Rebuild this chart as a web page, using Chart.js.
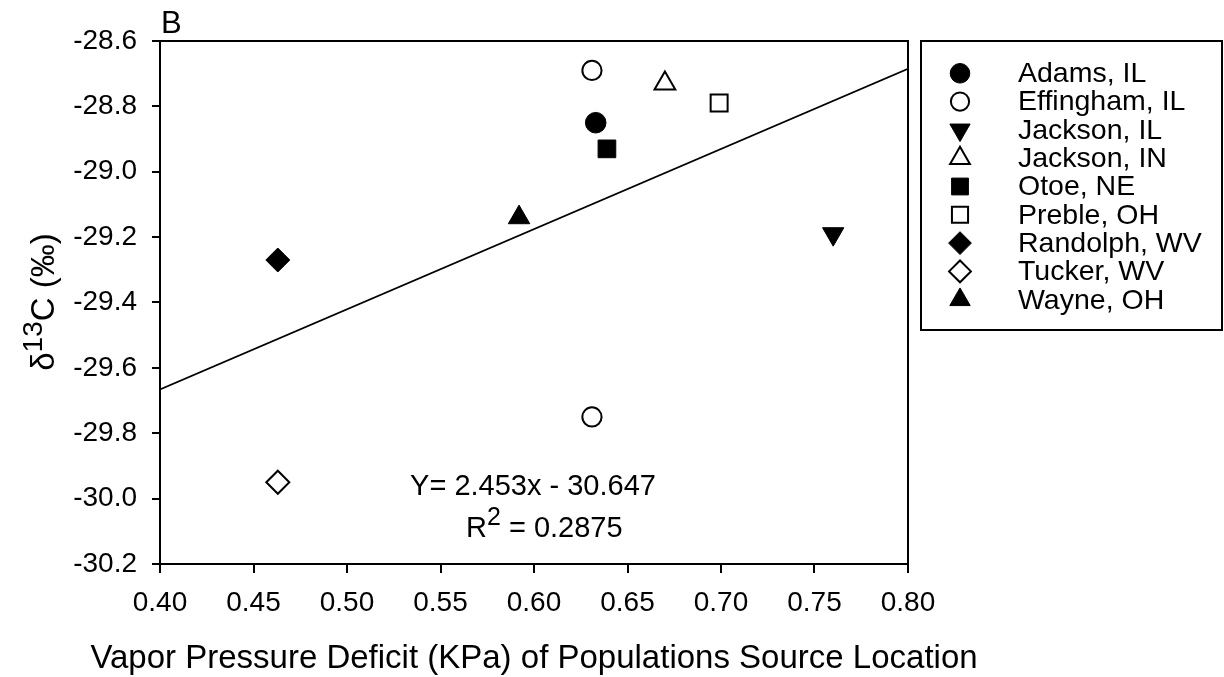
<!DOCTYPE html>
<html>
<head>
<meta charset="utf-8">
<script src="https://cdn.jsdelivr.net/npm/chart.js@4.4.1/dist/chart.umd.min.js"></script>
<style>
html,body{margin:0;padding:0;background:#ffffff;}
#wrap{width:1224px;height:677px;position:relative;}
</style>
</head>
<body>
<div id="wrap"><canvas id="c" width="1224" height="677"></canvas></div>
<script>
// ---------------- data ----------------
const sites = ['Adams, IL','Effingham, IL','Jackson, IL','Jackson, IN','Otoe, NE','Preble, OH','Randolph, WV','Tucker, WV','Wayne, OH'];
const vpd  = [[0.633],[0.631,0.631],[0.760],[0.670],[0.639],[0.699],[0.463],[0.463],[0.592]];
const d13C = [[-28.85],[-28.69,-29.75],[-29.19],[-28.73],[-28.93],[-28.79],[-29.27],[-29.95],[-29.14]];
const xTicks = [0.40,0.45,0.50,0.55,0.60,0.65,0.70,0.75,0.80];
const yTicks = [-30.2,-30.0,-29.8,-29.6,-29.4,-29.2,-29.0,-28.8,-28.6];
const fitX = [0.40, 0.80];
const fitY = [-29.666, -28.685];
const fitEquation = 'Y= 2.453x - 30.647';
const fitR2Value = '0.2875';
const panelLabel = 'B';
const xTitle = 'Vapor Pressure Deficit (KPa) of Populations Source Location';

// ---------------- styles ----------------
const FONT = '"Liberation Sans", Arial, sans-serif';
const markerShape = ['circle','circle','triangle','triangle','rect','rect','rectRot','rectRot','triangle'];
const markerRot   = [0,0,180,0,0,0,0,0,0];
const markerFill  = [true,false,true,false,true,false,true,false,true];
const markerSize  = [10.3,9.6,12.3,12,12.5,12,12,11.5,12.4];

const datasets = sites.map((name, i) => ({
  type: 'scatter',
  label: name,
  data: vpd[i].map((x, j) => ({x: x, y: d13C[i][j]})),
  pointStyle: markerShape[i],
  rotation: markerRot[i],
  pointRadius: markerSize[i],
  pointHoverRadius: markerSize[i],
  backgroundColor: markerFill[i] ? '#000000' : '#ffffff',
  borderColor: '#000000',
  borderWidth: markerFill[i] ? 1 : 2,
  order: 1
}));
datasets.push({
  type: 'line',
  label: 'fit',
  data: fitX.map((x, i) => ({x: x, y: fitY[i]})),
  borderColor: '#000000',
  borderWidth: 1.6,
  pointRadius: 0,
  fill: false,
  tension: 0,
  order: 2
});

function drawMarker(ctx, shape, rot, r, filled, x, y) {
  ctx.save();
  ctx.fillStyle = filled ? '#000' : '#fff';
  ctx.strokeStyle = '#000';
  ctx.lineWidth = filled ? 1 : 2;
  ctx.beginPath();
  if (shape === 'circle') {
    ctx.arc(x, y, r, 0, Math.PI * 2);
  } else if (shape === 'rect') {
    const s = Math.SQRT1_2 * r;
    ctx.rect(x - s, y - s, 2 * s, 2 * s);
  } else if (shape === 'rectRot') {
    ctx.moveTo(x - r, y); ctx.lineTo(x, y - r); ctx.lineTo(x + r, y); ctx.lineTo(x, y + r);
    ctx.closePath();
  } else if (shape === 'triangle') {
    let a = rot * Math.PI / 180;
    for (let k = 0; k < 3; k++) {
      const px = x + Math.sin(a) * r, py = y - Math.cos(a) * r;
      if (k === 0) ctx.moveTo(px, py); else ctx.lineTo(px, py);
      a += 2 * Math.PI / 3;
    }
    ctx.closePath();
  }
  ctx.fill();
  ctx.stroke();
  ctx.restore();
}

const extras = {
  id: 'extras',
  afterDraw(chart) {
    const ctx = chart.ctx;
    const a = chart.chartArea;
    ctx.save();
    // frame top & right
    ctx.strokeStyle = '#000';
    ctx.lineWidth = 2;
    ctx.beginPath();
    ctx.moveTo(a.left, a.top); ctx.lineTo(a.right, a.top); ctx.lineTo(a.right, a.bottom);
    ctx.stroke();

    ctx.fillStyle = '#000';
    // panel label
    ctx.font = '31px ' + FONT;
    ctx.textAlign = 'left';
    ctx.textBaseline = 'alphabetic';
    ctx.fillText(panelLabel, 161, 33);

    // x title
    ctx.font = '33px ' + FONT;
    ctx.textAlign = 'center';
    ctx.fillText(xTitle, (a.left + a.right) / 2, 668);

    // regression text
    ctx.font = '29px ' + FONT;
    ctx.textAlign = 'center';
    ctx.fillText(fitEquation, 533, 495);
    ctx.textAlign = 'left';
    let x = 466;
    ctx.font = '29px ' + FONT; ctx.fillText('R', x, 537); x += ctx.measureText('R').width;
    ctx.font = '25px ' + FONT; ctx.fillText('2', x, 525); x += ctx.measureText('2').width;
    ctx.font = '29px ' + FONT; ctx.fillText(' = ' + fitR2Value, x, 537);

    // y title
    ctx.save();
    ctx.translate(54, 302);
    ctx.rotate(-Math.PI / 2);
    ctx.font = '33px ' + FONT; const w1 = ctx.measureText('δ').width;
    ctx.font = '28px ' + FONT; const w2 = ctx.measureText('13').width;
    ctx.font = '33px ' + FONT; const w3 = ctx.measureText('C (‰)').width;
    let tx = -(w1 + w2 + w3) / 2;
    ctx.textAlign = 'left';
    ctx.font = '33px ' + FONT; ctx.fillText('δ', tx, 0); tx += w1;
    ctx.font = '28px ' + FONT; ctx.fillText('13', tx, -12); tx += w2;
    ctx.font = '33px ' + FONT; ctx.fillText('C (‰)', tx, 0);
    ctx.restore();

    // legend
    const lx = 921, ly = 41, lw = 301, lh = 289;
    ctx.lineWidth = 2;
    ctx.strokeRect(lx, ly, lw, lh);
    ctx.font = '28.5px ' + FONT;
    ctx.textBaseline = 'middle';
    ctx.textAlign = 'left';
    sites.forEach((name, i) => {
      const y = 73.3 + i * 28.3;
      drawMarker(ctx, markerShape[i], markerRot[i], markerSize[i] * 0.95, markerFill[i], 960, y);
      ctx.fillStyle = '#000';
      ctx.fillText(name, 1018, y + 1);
    });
    ctx.restore();
  }
};

new Chart(document.getElementById('c'), {
  data: { datasets: datasets },
  options: {
    responsive: false,
    animation: false,
    devicePixelRatio: 1,
    layout: { padding: { left: 0, top: 41, right: 316, bottom: 0 } },
    plugins: { legend: { display: false }, tooltip: { enabled: false } },
    scales: {
      x: {
        type: 'linear',
        position: 'bottom',
        min: 0.40, max: 0.80,
        afterBuildTicks: s => { s.ticks = xTicks.map(v => ({value: v})); },
        afterFit: s => { s.height = 113; },
        ticks: {
          color: '#000', padding: 13,
          font: { family: FONT, size: 28 },
          callback: v => Number(v).toFixed(2),
          maxRotation: 0, autoSkip: false
        },
        grid: { drawOnChartArea: false, drawTicks: true, tickLength: 9, color: '#000', lineWidth: 2 },
        border: { display: true, color: '#000', width: 2 },
        title: { display: false }
      },
      y: {
        type: 'linear',
        position: 'left',
        min: -30.2, max: -28.6,
        afterBuildTicks: s => { s.ticks = yTicks.map(v => ({value: v})); },
        afterFit: s => { s.width = 160; },
        ticks: {
          color: '#000', padding: 15,
          font: { family: FONT, size: 28 },
          callback: v => Number(v).toFixed(1),
          autoSkip: false
        },
        grid: { drawOnChartArea: false, drawTicks: true, tickLength: 8, color: '#000', lineWidth: 2 },
        border: { display: true, color: '#000', width: 2 }
      }
    }
  },
  plugins: [extras]
});
</script>
</body>
</html>
